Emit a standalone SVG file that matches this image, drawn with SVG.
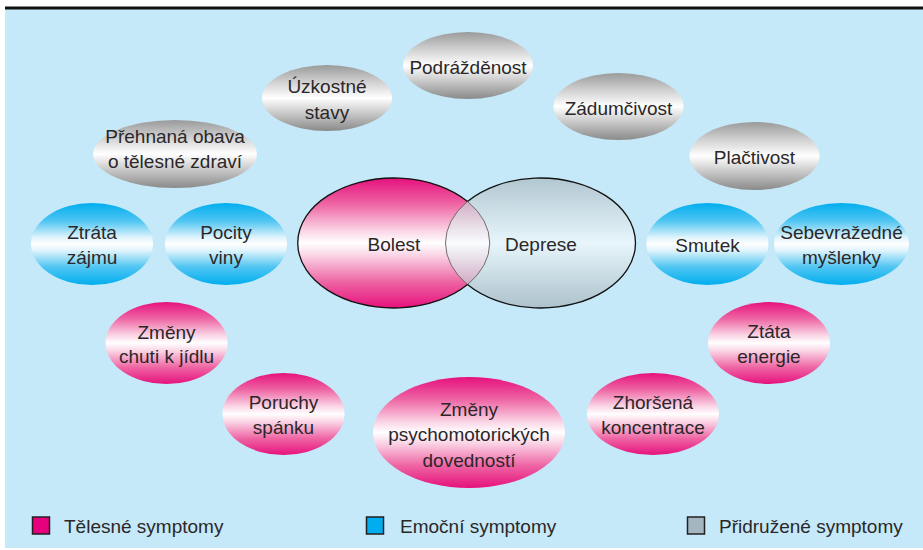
<svg xmlns="http://www.w3.org/2000/svg" width="923" height="550" viewBox="0 0 923 550">
<defs>
<linearGradient id="gPink" x1="0" y1="0" x2="0" y2="1">
<stop offset="0" stop-color="#e6117d"/>
<stop offset="0.2" stop-color="#ee64a3"/>
<stop offset="0.4" stop-color="#fad2e4"/>
<stop offset="0.5" stop-color="#ffffff"/>
<stop offset="0.6" stop-color="#fad2e4"/>
<stop offset="0.8" stop-color="#ee64a3"/>
<stop offset="1" stop-color="#e6117d"/>
</linearGradient>
<linearGradient id="gBlue" x1="0" y1="0" x2="0" y2="1">
<stop offset="0" stop-color="#00aeef"/>
<stop offset="0.22" stop-color="#50c5f2"/>
<stop offset="0.42" stop-color="#dff4fc"/>
<stop offset="0.5" stop-color="#ffffff"/>
<stop offset="0.58" stop-color="#dff4fc"/>
<stop offset="0.78" stop-color="#50c5f2"/>
<stop offset="1" stop-color="#00aeef"/>
</linearGradient>
<linearGradient id="gGrey" x1="0" y1="0" x2="0" y2="1">
<stop offset="0" stop-color="#9a9a9a"/>
<stop offset="0.25" stop-color="#cfcfcf"/>
<stop offset="0.5" stop-color="#ffffff"/>
<stop offset="0.75" stop-color="#c4c4c4"/>
<stop offset="1" stop-color="#8a8a8a"/>
</linearGradient>
<linearGradient id="gDep" x1="0" y1="0" x2="0" y2="1">
<stop offset="0" stop-color="#a9b8c0"/>
<stop offset="0.5" stop-color="#f6fbfd"/>
<stop offset="1" stop-color="#a2b1b9"/>
</linearGradient>
<style>
.t{font-family:"Liberation Sans",Arial,sans-serif;font-size:19px;fill:#2b2728;text-anchor:middle}
.lt{font-family:"Liberation Sans",Arial,sans-serif;font-size:19px;fill:#2b2728}
.pink{fill:url(#gPink)}
.blue{fill:url(#gBlue)}
.grey{fill:url(#gGrey)}
.sq{stroke:#231f20;stroke-width:1.5}
</style>
</defs>
<rect x="0" y="0" width="923" height="550" fill="#ffffff"/>
<rect x="5" y="9" width="918" height="539" fill="#c5e9f8"/>
<rect x="5" y="6.5" width="918" height="3" fill="#111111"/>

<g id="podrazdenost"><ellipse class="grey" cx="468" cy="65.5" rx="65" ry="33.5"/><text class="t" x="468" y="74">Podrážděnost</text></g>
<g id="uzkostne"><ellipse class="grey" cx="327" cy="98" rx="65" ry="33"/><text class="t" x="327" y="93">Úzkostné</text><text class="t" x="327" y="119">stavy</text></g>
<g id="zadumcivost"><ellipse class="grey" cx="618.5" cy="106.5" rx="65" ry="33.5"/><text class="t" x="618.5" y="115">Zádumčivost</text></g>
<g id="plactivost"><ellipse class="grey" cx="754.5" cy="156" rx="65" ry="34"/><text class="t" x="754.5" y="164">Plačtivost</text></g>
<g id="obava"><ellipse class="grey" cx="175" cy="154" rx="82" ry="34"/><text class="t" x="175" y="143">Přehnaná obava</text><text class="t" x="175" y="168">o tělesné zdraví</text></g>

<g id="ztrata-zajmu"><ellipse class="blue" cx="92" cy="244" rx="61" ry="41"/><text class="t" x="92" y="239">Ztráta</text><text class="t" x="92" y="264">zájmu</text></g>
<g id="pocity-viny"><ellipse class="blue" cx="226" cy="244" rx="61" ry="41"/><text class="t" x="226" y="239">Pocity</text><text class="t" x="226" y="264">viny</text></g>
<g id="smutek"><ellipse class="blue" cx="707.5" cy="244" rx="61" ry="41"/><text class="t" x="707.5" y="252">Smutek</text></g>
<g id="sebevrazedne"><ellipse class="blue" cx="841.5" cy="244" rx="67.5" ry="41"/><text class="t" x="841.5" y="239">Sebevražedné</text><text class="t" x="841.5" y="264">myšlenky</text></g>

<g id="bolest-deprese">
<ellipse cx="394" cy="243" rx="96" ry="65" fill="url(#gPink)"/>
<ellipse cx="541" cy="243" rx="95" ry="65" fill="url(#gDep)" fill-opacity="0.7"/>
<path d="M467.5,201.4 A96,65 0 0,1 467.5,284.6" fill="none" stroke="#6e6e6e" stroke-width="1"/>
<path d="M467.5,201.4 A95,65 0 0,0 467.5,284.6" fill="none" stroke="#6e6e6e" stroke-width="1"/>
<path d="M467.5,201.4 A96,65 0 1,0 467.5,284.6" fill="none" stroke="#111" stroke-width="1.3"/>
<path d="M467.5,201.4 A95,65 0 1,1 467.5,284.6" fill="none" stroke="#111" stroke-width="1.3"/>
<text class="t" x="394" y="251">Bolest</text>
<text class="t" x="541" y="251">Deprese</text>
</g>

<g id="zmeny-chuti"><ellipse class="pink" cx="166.5" cy="343" rx="61" ry="41"/><text class="t" x="166.5" y="339">Změny</text><text class="t" x="166.5" y="363">chuti k jídlu</text></g>
<g id="ztata-energie"><ellipse class="pink" cx="769" cy="343" rx="61" ry="41"/><text class="t" x="769" y="338">Ztáta</text><text class="t" x="769" y="363">energie</text></g>
<g id="poruchy-spanku"><ellipse class="pink" cx="283.5" cy="414" rx="61" ry="41"/><text class="t" x="283.5" y="409">Poruchy</text><text class="t" x="283.5" y="434">spánku</text></g>
<g id="zhorsena-koncentrace"><ellipse class="pink" cx="653" cy="414" rx="66" ry="41"/><text class="t" x="653" y="409">Zhoršená</text><text class="t" x="653" y="434">koncentrace</text></g>
<g id="zmeny-psychomotorickych"><ellipse class="pink" cx="469" cy="432.5" rx="96" ry="55.5"/><text class="t" x="469" y="416">Změny</text><text class="t" x="469" y="441">psychomotorických</text><text class="t" x="469" y="467">dovedností</text></g>

<g id="connectors"></g>

<g id="legend">
<rect class="sq" x="32.5" y="517" width="17" height="17" fill="#e6007e"/>
<text class="lt" x="64" y="533">Tělesné symptomy</text>
<rect class="sq" x="366.5" y="517" width="17" height="17" fill="#00aeef"/>
<text class="lt" x="400" y="533">Emoční symptomy</text>
<rect class="sq" x="687.5" y="517" width="17" height="17" fill="#a4b7c0"/>
<text class="lt" x="719" y="533">Přidružené symptomy</text>
</g>
</svg>
